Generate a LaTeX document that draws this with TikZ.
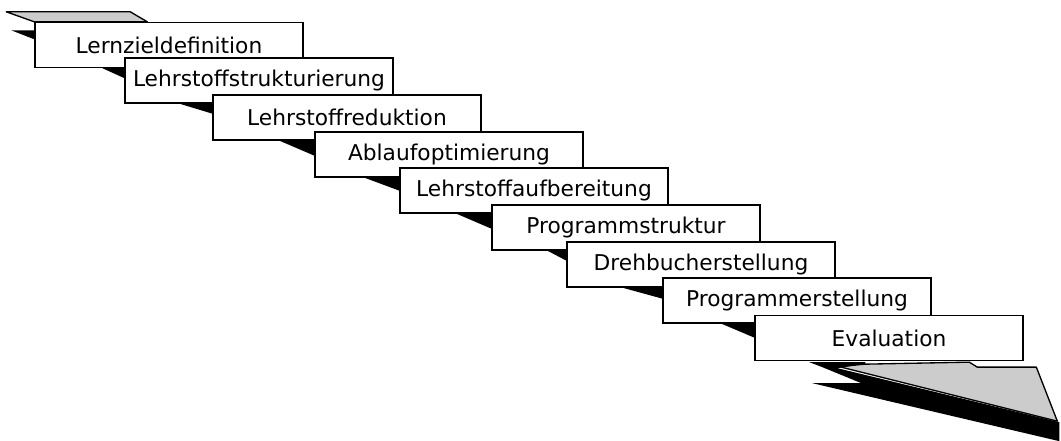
\documentclass[tikz,border=0pt]{standalone}
\usepackage{fontspec}
\setmainfont{DejaVu Sans}
\usetikzlibrary{calc}
\tikzset{
  stepbox/.style={draw=black, line width=1pt, fill=white, inner sep=0pt,
                  minimum width=201pt, minimum height=33.75pt,
                  font=\fontsize{16.3}{19}\selectfont},
  riser/.style  ={fill=black},
  tread/.style  ={fill=gray!40, draw=black, line width=1pt, line join=round},
}

\begin{document}
\begin{tikzpicture}[x=0.75pt, y=-0.75pt]
\useasboundingbox (0,0) rectangle (1061,441);

\node[stepbox] (s1) at (169,45)    {Lernzieldefinition};
\node[stepbox] (s2) at (259,80.5)  {Lehrstoffstrukturierung};
\node[stepbox] (s3) at (347,117.5) {Lehrstoffreduktion};
\node[stepbox] (s4) at (449,154.5) {Ablaufoptimierung};
\node[stepbox] (s5) at (534,190.5) {Lehrstoffaufbereitung};
\node[stepbox] (s6) at (626,227.5) {Programmstruktur};
\node[stepbox] (s7) at (701,264.5) {Drehbucherstellung};
\node[stepbox] (s8) at (797,300.5) {Programmerstellung};
\node[stepbox] (s9) at (889,338)   {Evaluation};

% top landing
\draw[tread] (s1.north west) -- ++(-28,-10) -- ++(124,0) -- ++(17,10) -- cycle;

% risers
\fill[riser] ($(s1.north west)+(-23,8.5)$) -- ++(23,0) -- ++(0,9) -- cycle;
\fill[riser] ($(s1.south -| s2.west)+(-22,0)$) -- (s1.south -| s2.west) -- ++(0,10) -- cycle;
\fill[riser] ($(s2.south -| s3.west)+(-33,0)$) -- (s2.south -| s3.west) -- ++(0,10) -- cycle;
\fill[riser] ($(s3.south -| s4.west)+(-35,0)$) -- (s3.south -| s4.west) -- ++(0,15) -- cycle;
\fill[riser] ($(s4.south -| s5.west)+(-35,0)$) -- (s4.south -| s5.west) -- ++(0,13) -- cycle;
\fill[riser] ($(s5.south -| s6.west)+(-35,0)$) -- (s5.south -| s6.west) -- ++(0,15) -- cycle;
\fill[riser] ($(s6.south -| s7.west)+(-19,0)$) -- (s6.south -| s7.west) -- ++(0,10) -- cycle;
\fill[riser] ($(s7.south -| s8.west)+(-40,0)$) -- (s7.south -| s8.west) -- ++(0,11) -- cycle;
\fill[riser] ($(s8.south -| s9.west)+(-33,0)$) -- (s8.south -| s9.west) -- ++(0,14) -- cycle;

% bottom floor
\begin{scope}[shift={(s9.south west)}]
  \draw[tread] (83,5) -- (111,3) -- (215,1) -- (223,6) -- (282,6) -- (303,60) -- cycle;
  \fill[riser] (55,1) -- (111,1) -- (111,3) -- (83,7) -- (305,61) -- (305,80)
    -- (58,22) -- (107,22) -- (68,6) -- cycle;
\end{scope}

\end{tikzpicture}
\end{document}
